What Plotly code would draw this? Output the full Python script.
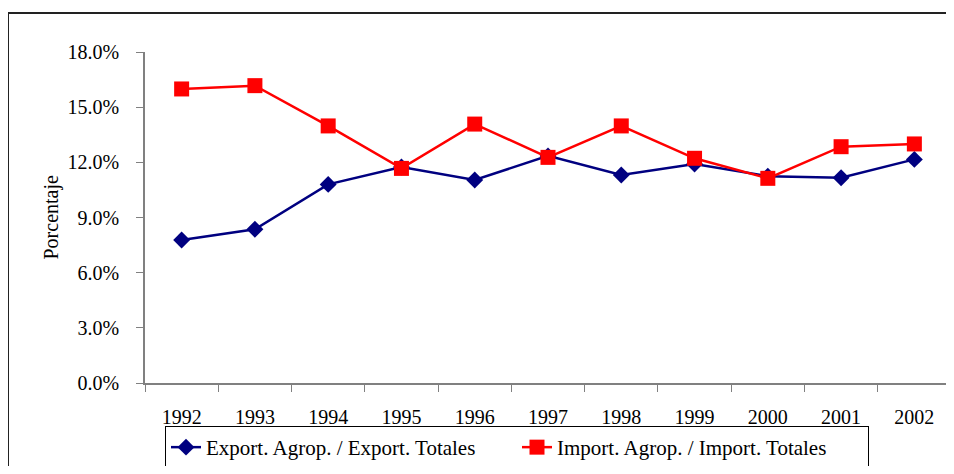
import plotly.graph_objects as go

years = ["1992", "1993", "1994", "1995", "1996", "1997", "1998", "1999", "2000", "2001", "2002"]
export_ratio = [7.78, 8.36, 10.80, 11.75, 11.04, 12.35, 11.31, 11.91, 11.25, 11.16, 12.16]
import_ratio = [15.99, 16.17, 13.98, 11.67, 14.08, 12.27, 13.98, 12.22, 11.13, 12.85, 13.00]
export_name = "Export. Agrop. / Export. Totales"
import_name = "Import. Agrop. / Import. Totales"
y_ticks = [0, 3, 6, 9, 12, 15, 18]
y_tick_labels = ["0.0%", "3.0%", "6.0%", "9.0%", "12.0%", "15.0%", "18.0%"]

FONT = "Liberation Serif, Times New Roman, serif"

fig = go.Figure()
fig.add_trace(go.Scatter(
    x=years, y=export_ratio, name=export_name, mode="lines+markers",
    line=dict(color="#000080", width=2.5),
    marker=dict(symbol="diamond", size=13, color="#000080"),
))
fig.add_trace(go.Scatter(
    x=years, y=import_ratio, name=import_name, mode="lines+markers",
    line=dict(color="#FF0000", width=2.5),
    marker=dict(symbol="square", size=15, color="#FF0000"),
))

W, H = 946, 458
PW, PH = 806, 331
fig.update_layout(
    width=W, height=H,
    margin=dict(l=137, r=3, t=44, b=83, autoexpand=False),
    paper_bgcolor="white", plot_bgcolor="white",
    font=dict(family=FONT, size=20, color="black"),
    showlegend=True,
    legend=dict(
        orientation="h", xref="container", yref="container",
        x=509 / W, xanchor="center", y=1 - 418 / H, yanchor="top",
        bordercolor="black", borderwidth=1, bgcolor="white",
        font=dict(family=FONT, size=21, color="black"),
        entrywidth=306, entrywidthmode="pixels", tracegroupgap=0,
    ),
    xaxis=dict(
        type="category", range=[-0.5, 10.5], tickson="boundaries",
        ticks="outside", ticklen=7, tickcolor="#808080", automargin=False,
        showline=True, linecolor="#808080", linewidth=1.5,
        showgrid=False, zeroline=False, ticklabelstandoff=15,
        tickfont=dict(family=FONT, size=20, color="black"),
    ),
    yaxis=dict(
        range=[0, 18], tickvals=y_ticks, ticktext=y_tick_labels,
        ticks="outside", ticklen=7, tickcolor="#808080", automargin=False,
        showline=True, linecolor="#808080", linewidth=1.5,
        showgrid=False, zeroline=False, ticklabelstandoff=13,
        tickfont=dict(family=FONT, size=20, color="black"),
    ),
    annotations=[
        dict(text="Porcentaje", textangle=-90, xref="paper", yref="paper",
             x=-0.1166, y=0.5, xanchor="center", yanchor="middle", showarrow=False,
             font=dict(family=FONT, size=20, color="black")),
    ],
    shapes=[
        dict(type="line", xref="paper", yref="paper",
             x0=(0 - 137) / PW, x1=(0 - 137) / PW, y0=-0.4, y1=(375 - 5) / PH,
             line=dict(color="#222222", width=2)),
        dict(type="line", xref="paper", yref="paper",
             x0=(0 - 137) / PW, x1=1.1, y0=(375 - 5) / PH, y1=(375 - 5) / PH,
             line=dict(color="#222222", width=2)),
    ],
)

fig.write_html("out.html")
